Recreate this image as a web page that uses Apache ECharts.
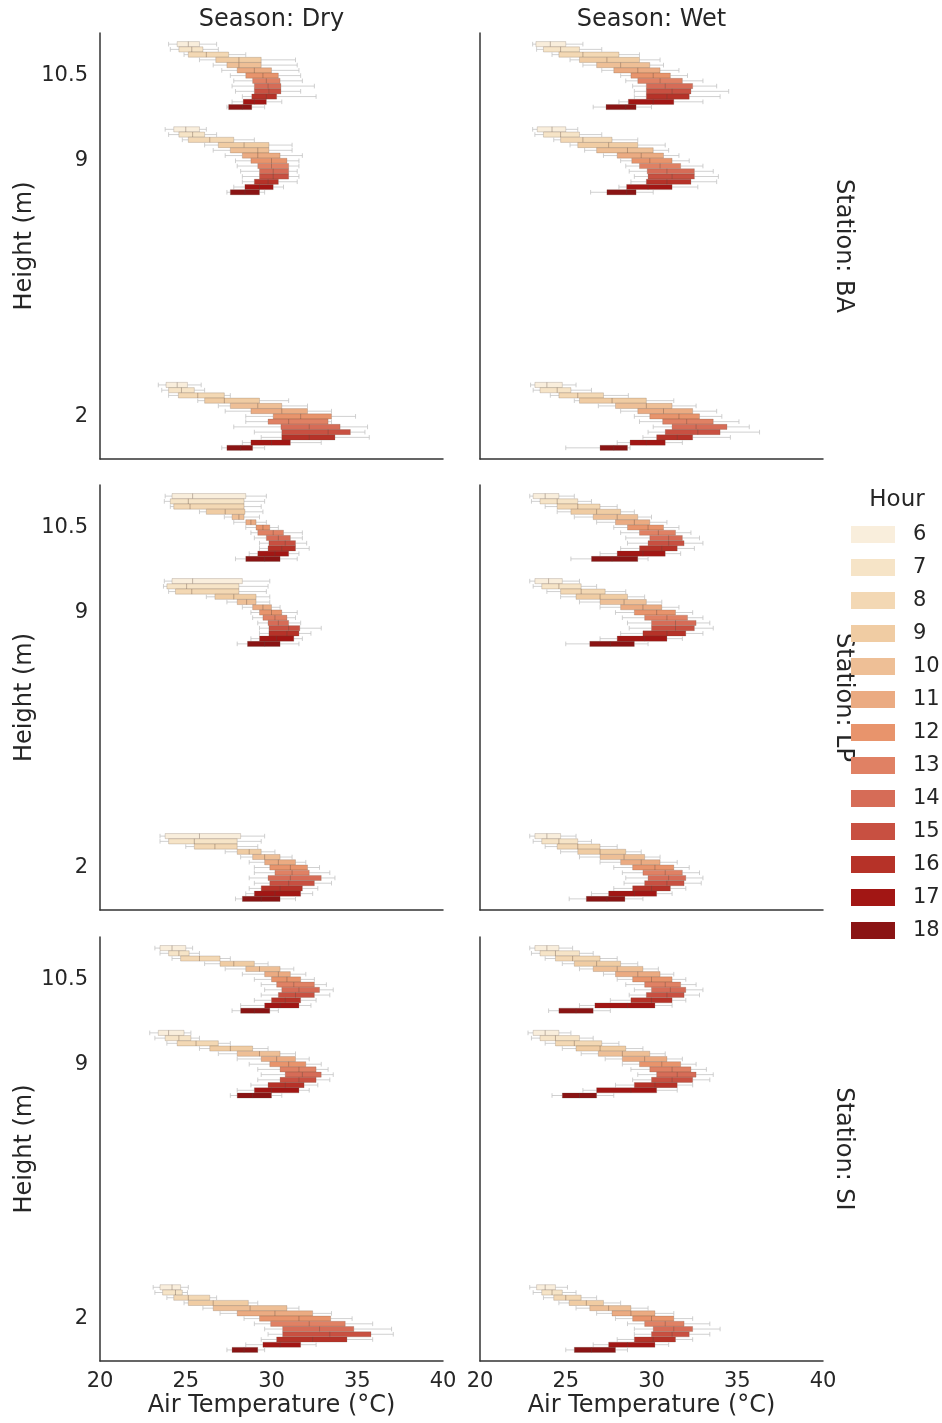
<!DOCTYPE html>
<html><head><meta charset="utf-8">
<script src="https://cdn.jsdelivr.net/npm/echarts@6/dist/echarts.min.js"></script>
<style>html,body{margin:0;padding:0;background:#fff}#c{width:942px;height:1423px}</style>
</head><body><div id="c"></div>
<script>
// ---------- categories / ticks ----------
const hours = ['6','7','8','9','10','11','12','13','14','15','16','17','18'];
const heightCats = ['10.5', '9', ' ', '  ', '2'];
const stations = ['BA', 'LP', 'SI'];
const seasons = ['Dry', 'Wet'];
const xTicks = [20, 25, 30, 35, 40];
const hourColors = ['#f9eedc','#f6e4c7','#f3d8b4','#f0cca3','#eebf96','#ebab82','#e8946c',
                    '#e08164','#d66c57','#c85041','#b63228','#a21614','#8a1414'];

// ---------- values: per hour 6..18 -> [whiskerLow, Q1, median, Q3, whiskerHigh] (°C) ----------
const BA_Dry_105 = [[24.0,24.5,25.15,25.8,26.8],[24.1,24.6,25.35,26.0,26.9],[24.9,25.15,26.2,27.5,28.5],[25.8,26.75,28.1,29.4,31.4],[26.6,27.4,28.1,29.4,31.5],[27.1,28.0,29.0,30.0,31.6],[27.6,28.5,29.5,30.4,31.7],[27.8,28.9,29.7,30.5,31.8],[27.7,29.0,29.8,30.55,32.5],[27.9,29.0,29.85,30.55,31.7],[28.3,28.85,29.7,30.3,32.6],[27.7,28.35,29.0,29.7,30.6],[27.4,27.5,28.3,28.85,29.6]];
const BA_Dry_9 = [[23.8,24.3,25.0,25.8,26.2],[24.0,24.6,25.4,26.1,26.8],[24.8,25.15,26.4,27.8,29.0],[26.1,26.9,28.4,29.85,31.2],[26.6,27.6,29.2,29.85,31.2],[27.3,28.3,29.2,30.5,31.8],[27.9,28.8,30.0,30.9,31.6],[28.0,29.2,30.0,31.0,31.6],[28.2,29.3,30.1,31.0,31.5],[28.3,29.3,30.1,31.0,31.6],[28.3,29.0,29.8,30.4,31.5],[27.8,28.45,29.3,30.1,30.7],[27.4,27.6,28.45,29.3,29.6]];
const BA_Dry_2 = [[23.4,23.85,24.5,25.1,25.9],[23.6,24.0,24.75,25.5,26.1],[24.0,24.57,25.7,27.25,27.6],[25.7,26.1,27.25,29.3,31.0],[26.9,27.6,29.2,30.6,32.1],[27.3,28.8,30.6,32.1,33.5],[28.5,30.1,31.7,33.5,34.9],[28.5,29.8,31.0,33.3,33.5],[27.8,30.55,32.2,34.0,35.6],[29.0,30.6,33.3,34.6,35.45],[29.4,30.6,32.2,33.7,35.7],[28.3,28.8,30.0,31.1,32.9],[27.1,27.4,28.2,28.9,29.6]];
const BA_Wet_105 = [[23.07,23.26,24.1,25.0,26.0],[23.3,23.7,24.7,25.8,27.1],[24.2,24.6,26.0,28.1,29.3],[25.25,25.8,27.4,29.3,30.5],[26.0,26.8,28.2,29.9,30.7],[27.1,27.8,29.2,30.5,31.6],[28.2,28.8,30.1,31.1,32.1],[28.5,29.2,30.5,31.8,33.0],[28.9,29.7,30.8,32.4,33.8],[29.0,29.7,31.2,32.3,34.5],[29.0,29.7,30.9,32.2,34.0],[28.1,28.65,30.1,31.3,33.0],[26.6,27.35,28.5,29.1,30.0]];
const BA_Wet_9 = [[23.07,23.34,24.2,25.0,25.7],[23.2,23.7,24.7,25.8,27.1],[24.3,24.7,26.0,27.7,29.2],[25.25,25.7,27.5,29.2,30.8],[26.1,26.8,28.6,30.1,31.0],[27.2,28.0,29.4,30.7,31.6],[28.2,28.85,29.9,31.2,32.2],[28.5,29.3,30.5,31.7,33.0],[28.7,29.75,30.9,32.5,33.6],[29.0,29.8,31.2,32.5,33.9],[28.8,29.7,30.9,32.3,33.8],[28.1,28.55,29.8,31.2,32.7],[26.45,27.4,28.55,29.1,30.1]];
const BA_Wet_2 = [[22.95,23.2,23.9,24.8,25.6],[23.1,23.5,24.5,25.3,26.5],[24.1,24.6,25.7,27.2,28.65],[25.5,25.8,27.7,29.7,31.3],[26.9,27.9,29.7,31.2,32.6],[28.2,29.2,30.7,32.4,33.8],[29.0,29.9,31.6,32.8,34.1],[29.3,30.65,32.05,33.6,35.1],[30.1,31.2,32.6,34.4,35.7],[29.8,30.8,32.7,34.0,36.3],[29.5,30.3,31.5,32.4,34.6],[28.0,28.75,29.7,30.8,31.8],[25.0,27.0,27.8,28.6,28.75]];
const LP_Dry_105 = [[23.8,24.2,25.4,28.5,29.7],[23.75,24.1,25.15,28.4,29.6],[24.1,24.3,25.25,28.4,29.4],[25.8,26.2,27.3,28.45,29.5],[27.25,27.7,28.1,28.4,29.3],[27.8,28.5,28.8,29.1,29.7],[28.5,29.1,29.5,29.9,30.4],[28.8,29.2,30.1,30.7,31.8],[29.0,29.7,30.4,31.1,31.8],[29.3,29.85,30.8,31.4,32.05],[29.3,29.8,30.6,31.4,32.2],[28.7,29.2,30.2,31.0,31.6],[27.9,28.5,29.6,30.5,31.5]];
const LP_Dry_9 = [[23.75,24.2,25.4,28.3,29.9],[23.7,23.9,25.05,28.1,29.8],[24.0,24.4,25.35,28.1,29.7],[26.2,26.7,27.8,29.1,29.9],[27.4,28.0,28.55,29.1,29.9],[28.3,28.9,29.5,30.0,30.5],[28.8,29.3,30.0,30.6,31.5],[28.9,29.5,30.2,30.9,31.4],[29.2,29.8,30.4,31.0,31.7],[29.3,29.85,31.0,31.65,32.9],[29.3,29.85,30.9,31.6,32.3],[28.8,29.3,30.3,31.3,31.8],[28.0,28.6,29.6,30.5,31.6]];
const LP_Dry_2 = [[23.5,23.8,25.8,28.2,29.6],[23.5,24.0,25.5,28.0,29.4],[25.0,25.5,26.7,28.0,29.2],[27.3,28.0,28.7,29.4,30.2],[28.2,28.9,29.6,30.5,31.2],[28.7,29.6,30.4,31.4,32.0],[29.0,29.9,31.1,32.1,32.8],[29.0,30.2,31.2,32.2,33.4],[28.7,29.8,31.1,32.9,33.7],[29.0,29.9,31.0,32.5,33.5],[28.7,29.4,30.5,31.8,32.7],[28.5,29.0,30.2,31.7,32.4],[27.9,28.3,29.4,30.5,31.4]];
const LP_Wet_105 = [[22.9,23.1,23.8,24.6,25.5],[23.0,23.5,24.5,25.7,26.5],[23.8,24.5,25.7,27.0,28.0],[24.5,25.3,26.8,28.2,29.0],[25.5,26.6,28.0,29.2,30.0],[26.8,27.9,29.0,29.9,30.9],[27.8,28.6,29.8,30.7,31.6],[28.2,29.3,30.4,31.4,32.3],[28.5,29.9,31.0,31.8,32.8],[28.6,29.8,31.0,31.9,33.0],[28.2,29.3,30.6,31.5,32.5],[27.0,28.0,29.5,30.8,31.7],[25.3,26.5,27.7,29.2,29.8]];
const LP_Wet_9 = [[22.9,23.2,24.0,24.8,25.8],[23.1,23.6,24.6,25.9,26.8],[23.9,24.7,25.9,27.3,28.5],[24.7,25.6,27.0,28.6,29.6],[25.8,27.0,28.4,29.7,30.6],[27.0,28.2,29.5,30.6,31.6],[27.9,29.0,30.3,31.4,32.4],[28.3,29.6,30.9,32.1,33.0],[28.6,30.0,31.4,32.6,33.4],[28.7,30.0,31.4,32.5,33.6],[28.2,29.5,30.9,32.0,33.0],[27.0,28.0,29.6,30.9,31.8],[25.0,26.4,27.6,29.0,29.8]];
const LP_Wet_2 = [[22.9,23.2,23.9,24.7,25.6],[23.1,23.6,24.6,25.7,26.5],[23.8,24.5,25.7,27.0,28.0],[24.7,25.7,27.0,28.5,29.4],[25.8,27.0,28.4,29.6,30.5],[27.0,28.2,29.4,30.5,31.5],[27.8,28.9,30.2,31.3,32.2],[28.3,29.5,30.8,31.8,32.8],[28.5,29.8,31.0,32.0,33.0],[28.4,29.6,30.9,31.9,32.9],[27.8,28.9,30.0,31.1,32.0],[26.5,27.5,29.0,30.3,31.2],[25.2,26.2,27.4,28.45,29.5]];
const SI_Dry_105 = [[23.2,23.5,24.2,25.0,25.4],[23.5,24.0,24.6,25.2,25.8],[24.2,24.7,25.8,27.0,27.6],[26.1,27.0,27.8,29.0,29.8],[27.3,28.5,29.3,30.5,31.3],[28.3,29.6,30.4,31.1,32.0],[29.0,30.0,30.9,31.7,32.5],[29.4,30.3,31.3,32.5,33.2],[29.6,30.6,31.6,32.8,33.6],[29.4,30.4,31.4,32.5,33.4],[29.0,30.0,30.8,31.7,32.6],[28.2,29.6,30.5,31.6,32.3],[27.7,28.2,29.0,29.9,30.4]];
const SI_Dry_9 = [[22.9,23.4,24.0,24.9,25.3],[23.2,23.8,24.6,25.3,25.8],[23.9,24.5,25.6,26.9,27.6],[25.8,26.4,27.6,28.9,29.8],[26.9,28.0,29.3,30.5,31.4],[28.0,29.4,30.3,31.4,32.2],[28.7,29.9,31.0,32.0,32.9],[29.2,30.5,31.6,32.6,33.3],[29.4,30.8,31.8,32.9,33.6],[29.2,30.5,31.6,32.6,33.4],[28.8,29.8,30.8,31.9,32.7],[28.0,29.0,30.0,31.6,32.2],[27.6,28.0,28.9,30.0,30.6]];
const SI_Dry_2 = [[23.1,23.5,24.2,24.7,25.15],[23.2,23.65,24.4,24.8,25.1],[23.9,24.3,25.15,26.4,26.8],[24.9,25.15,26.6,28.65,29.2],[26.0,26.6,28.75,30.9,31.6],[27.0,28.0,30.2,32.4,33.5],[28.4,29.3,31.6,33.45,34.7],[29.0,29.95,32.2,34.3,35.9],[29.6,30.65,32.8,34.8,37.0],[29.8,30.65,33.4,35.8,37.1],[29.4,30.3,32.4,34.4,35.9],[28.5,29.5,30.5,31.7,32.6],[27.4,27.7,28.4,29.2,29.6]];
const SI_Wet_105 = [[22.9,23.2,23.9,24.6,25.4],[23.0,23.5,24.4,25.8,26.6],[23.8,24.4,25.4,27.0,28.0],[24.8,25.5,26.8,28.2,29.2],[25.8,26.6,28.0,29.5,30.4],[27.2,27.9,29.2,30.5,31.3],[28.0,28.9,30.0,31.2,32.0],[28.5,29.6,30.8,31.7,32.6],[29.0,30.0,31.1,32.0,33.0],[28.7,29.7,30.9,31.9,32.8],[27.6,28.8,30.0,31.2,32.0],[25.8,26.7,28.6,30.2,31.2],[24.0,24.6,25.6,26.6,27.6]];
const SI_Wet_9 = [[22.8,23.1,23.8,24.6,25.3],[23.0,23.5,24.4,25.8,26.6],[23.8,24.4,25.5,27.1,28.1],[24.8,25.6,27.0,28.5,29.5],[25.9,26.9,28.3,29.9,30.8],[27.3,28.3,29.6,30.9,31.8],[28.3,29.3,30.6,31.7,32.6],[28.8,29.9,31.2,32.3,33.2],[29.2,30.3,31.5,32.6,33.6],[28.9,30.0,31.2,32.4,33.4],[27.9,29.0,30.2,31.5,32.4],[26.0,26.8,28.8,30.3,31.5],[24.2,24.8,25.8,26.8,27.8]];
const SI_Wet_2 = [[22.9,23.3,23.8,24.4,25.1],[23.1,23.6,24.2,24.8,25.6],[23.7,24.3,25.0,25.9,26.8],[24.6,25.2,26.2,27.2,28.2],[25.6,26.4,27.5,28.8,29.8],[26.8,27.7,28.8,30.2,31.3],[27.9,28.9,30.0,31.3,32.4],[28.6,29.6,30.8,31.9,33.4],[29.0,30.1,31.3,32.4,34.0],[29.0,30.0,31.2,32.2,33.4],[28.0,29.0,30.1,31.4,32.4],[26.6,27.5,28.6,30.2,31.0],[25.0,25.5,26.5,27.9,28.6]];

const panelData = {
  BA: { Dry: [BA_Dry_105, BA_Dry_9, BA_Dry_2], Wet: [BA_Wet_105, BA_Wet_9, BA_Wet_2] },
  LP: { Dry: [LP_Dry_105, LP_Dry_9, LP_Dry_2], Wet: [LP_Wet_105, LP_Wet_9, LP_Wet_2] },
  SI: { Dry: [SI_Dry_105, SI_Dry_9, SI_Dry_2], Wet: [SI_Wet_105, SI_Wet_9, SI_Wet_2] }
};
const heightIndex = [0, 1, 4]; // positions of 10.5, 9, 2 in heightCats

// ---------- layout ----------
const FONT = 'DejaVu Sans';
const TXT = '#262626';
const colLeft = [100, 480];
const colWidth = 343;
const rowTop = [33, 485, 937];
const rowHeight = [426, 425, 424];

const grids = [], xAxes = [], yAxes = [], series = [];

function makeRender(h) {
  return function (params, api) {
    const cat = api.value(0);
    const band = api.size([0, 1])[1];
    const slot = band * 0.8 / hours.length;
    const pL = api.coord([api.value(1), cat]);
    const yc = pL[1] - band * 0.4 + slot * (h + 0.5);
    const xl = pL[0];
    const x1 = api.coord([api.value(2), cat])[0];
    const xm = api.coord([api.value(3), cat])[0];
    const x3 = api.coord([api.value(4), cat])[0];
    const xh = api.coord([api.value(5), cat])[0];
    const bh = slot * 0.98;
    const cap = bh * 0.45;
    const wStyle = { stroke: '#c4c4c4', lineWidth: 0.8 };
    return {
      type: 'group',
      children: [
        { type: 'line', shape: { x1: xl, y1: yc, x2: x1, y2: yc }, style: wStyle },
        { type: 'line', shape: { x1: x3, y1: yc, x2: xh, y2: yc }, style: wStyle },
        { type: 'line', shape: { x1: xl, y1: yc - cap, x2: xl, y2: yc + cap }, style: wStyle },
        { type: 'line', shape: { x1: xh, y1: yc - cap, x2: xh, y2: yc + cap }, style: wStyle },
        { type: 'rect', shape: { x: x1, y: yc - bh / 2, width: x3 - x1, height: bh },
          style: { fill: hourColors[h], stroke: 'rgba(90,70,60,0.35)', lineWidth: 0.6 } },
        { type: 'line', shape: { x1: xm, y1: yc - bh / 2, x2: xm, y2: yc + bh / 2 },
          style: { stroke: 'rgba(90,70,60,0.45)', lineWidth: 0.8 } }
      ]
    };
  };
}

stations.forEach((st, r) => {
  seasons.forEach((se, c) => {
    const g = grids.length;
    grids.push({ left: colLeft[c], top: rowTop[r], width: colWidth, height: rowHeight[r] });
    const bottomRow = r === stations.length - 1;
    xAxes.push({
      type: 'value', gridIndex: g, min: xTicks[0], max: xTicks[xTicks.length - 1], interval: 5,
      axisLine: { show: true, lineStyle: { color: '#333', width: 1.5 } },
      axisTick: { show: false }, splitLine: { show: false },
      axisLabel: { show: bottomRow, fontSize: 21, color: TXT, fontFamily: FONT, margin: 10 },
      name: bottomRow ? 'Air Temperature (°C)' : '', nameLocation: 'middle', nameGap: 33,
      nameTextStyle: { fontSize: 24, color: TXT, fontFamily: FONT }
    });
    yAxes.push({
      type: 'category', gridIndex: g, data: heightCats, inverse: true,
      axisLine: { show: true, lineStyle: { color: '#333', width: 1.5 } },
      axisTick: { show: false }, splitLine: { show: false },
      axisLabel: { show: c === 0, fontSize: 21, color: TXT, fontFamily: FONT, margin: 12 },
      name: c === 0 ? 'Height (m)' : '', nameLocation: 'middle', nameGap: 63, nameRotate: 90,
      nameTextStyle: { fontSize: 24, color: TXT, fontFamily: FONT }
    });
    const arrs = panelData[st][se];
    hours.forEach((hr, h) => {
      series.push({
        type: 'custom', name: hr, xAxisIndex: g, yAxisIndex: g,
        itemStyle: { color: hourColors[h] },
        encode: { x: [1, 2, 3, 4, 5], y: 0 },
        renderItem: makeRender(h),
        data: arrs.map((a, k) => [heightIndex[k]].concat(a[h]))
      });
    });
  });
});

const graphics = [];
seasons.forEach((se, c) => {
  graphics.push({ type: 'text', x: colLeft[c] + colWidth / 2, y: 20,
    style: { text: 'Season: ' + se, font: '24px "' + FONT + '"', fill: TXT, textAlign: 'center', textVerticalAlign: 'middle' } });
});
stations.forEach((st, r) => {
  graphics.push({ type: 'text', x: 843, y: rowTop[r] + rowHeight[r] / 2, rotation: -Math.PI / 2,
    style: { text: 'Station: ' + st, font: '24px "' + FONT + '"', fill: TXT, textAlign: 'center', textVerticalAlign: 'middle' } });
});
graphics.push({ type: 'text', x: 897, y: 500,
  style: { text: 'Hour', font: '23px "' + FONT + '"', fill: TXT, textAlign: 'center', textVerticalAlign: 'middle' } });

const chart = echarts.init(document.getElementById('c'), null, { renderer: 'canvas' });
chart.setOption({
  backgroundColor: '#fff',
  animation: false,
  textStyle: { fontFamily: FONT },
  grid: grids, xAxis: xAxes, yAxis: yAxes,
  legend: {
    data: hours, orient: 'vertical', left: 851, top: 524, padding: 0,
    icon: 'rect', itemWidth: 44, itemHeight: 17, itemGap: 12,
    selectedMode: false,
    textStyle: { fontSize: 21, color: TXT, fontFamily: FONT, lineHeight: 20, padding: [0, 0, 0, 13] }
  },
  graphic: graphics,
  series: series
});
</script></body></html>
